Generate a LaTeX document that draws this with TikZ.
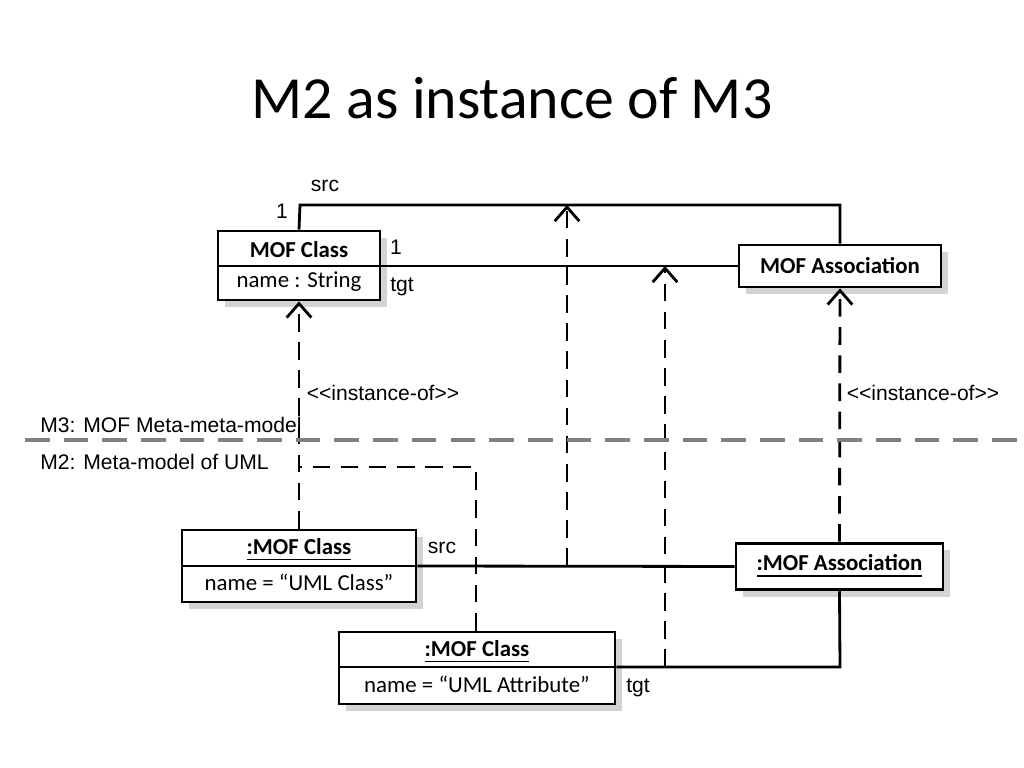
\documentclass[tikz,border=0pt]{standalone}
\usepackage{fontspec}
\setmainfont{Carlito}
\newfontfamily\lab{Liberation Sans}
\usetikzlibrary{arrows.meta,shadows}
\begin{document}
\begin{tikzpicture}[x=0.01cm,y=-0.01cm]
      \tikzstyle{BOX} = [draw, fill=white, line width=0.8pt, drop shadow={shadow xshift=2pt, shadow yshift=-2pt, opacity=0.35}]
      \tikzstyle{LNK} = [line width=0.8pt]
      \tikzstyle{INST} = [line width=0.8pt, dashed, dash pattern=on 5pt off 3pt]
      \tikzstyle{TIP} = [-{Straight Barb[length=4pt,width=7pt]}]
      \tikzstyle{LBL} = [font=\lab\fontsize{6}{7}\selectfont]
      \tikzstyle{TXT} = [font=\fontsize{6.5}{8}\selectfont]

      \useasboundingbox (0,0) rectangle (1024,768);
      \node (title) at (512,98) {\fontsize{17}{20}\selectfont M2 as instance of M3};

      %%%%% BOXES
      \node[BOX, minimum width=162*0.01cm, minimum height=69*0.01cm](mc) at (299,265.5) {};
      \draw[LNK] (218,266) -- (380,266);
      \node[TXT] at (299,250) {\textbf{MOF Class}};
      \node[TXT] at (299,282) {name : String};

      \node[BOX, minimum width=202*0.01cm, minimum height=42*0.01cm, TXT](ma) at (840,266) {\textbf{MOF Association}};

      \node[BOX, minimum width=234*0.01cm, minimum height=72*0.01cm](ic) at (299,566) {};
      \draw[LNK] (182,566) -- (416,566);
      \node[TXT] at (299,550) {\underline{\textbf{:MOF Class}}};
      \node[TXT] at (299,582) {name = “UML Class”};

      \node[BOX, minimum width=207*0.01cm, minimum height=41*0.01cm, TXT](ia) at (839.5,566.5) {\underline{\textbf{:MOF Association}}};

      \node[BOX, minimum width=276*0.01cm, minimum height=72*0.01cm](ib) at (477,668) {};
      \draw[LNK] (339,667) -- (615,667);
      \node[TXT] at (477,652) {\underline{\textbf{:MOF Class}}};
      \node[TXT] at (477,684) {name = “UML Attribute”};

      %%%%% LINKS
      \coordinate (s1) at (300,205);
      \coordinate (s2) at (840,205);
      \draw[LNK] (mc.north) -- (s1) -- (s2) -- (ma.north);
      \draw[LNK] (mc.east |- 0,266) -- (ma.west);
      \draw[LNK] (ic.east) -- (ia.west);
      \coordinate (t2) at (840,667);
      \draw[LNK] (ib.east |- t2) -- (t2) -- (ia.south);

      \node[LBL] at (325,186) {src};
      \node[LBL] at (282,211) {1};
      \node[LBL] at (396,247) {1};
      \node[LBL] at (402,287) {tgt};
      \node[LBL] at (442,548) {src};
      \node[LBL] at (638,688) {tgt};

      %%%%% INSTANCE-OF
      \draw[INST, TIP] (ic.north) -- (mc.south);
      \draw[INST, TIP] (ia.north) -- (ma.south);
      \coordinate (k1) at (476,467);
      \coordinate (k2) at (300,467);
      \draw[INST] (ib.north -| k1) -- (k1) -- (k2);
      \coordinate (a1) at (567,566);
      \coordinate (a2) at (567,205);
      \draw[INST, TIP] (a1) -- (a2);
      \coordinate (b1) at (665,667);
      \coordinate (b2) at (665,266);
      \draw[INST, TIP] (b1) -- (b2);
      \node[LBL] at (383,393) {<{}<instance-of>{}>};
      \node[LBL] at (923,393) {<{}<instance-of>{}>};

      %%%%% LEVELS
      \coordinate (l1) at (25,440);
      \coordinate (l2) at (1024,440);
      \draw[gray, line width=1.2pt, dash pattern=on 7pt off 4pt] (l1) -- (l2);
      \node[LBL, anchor=west] at (28,425) {M3: MOF Meta-meta-model};
      \node[LBL, anchor=west] at (28,462) {M2: Meta-model of UML};
\end{tikzpicture}
\end{document}
